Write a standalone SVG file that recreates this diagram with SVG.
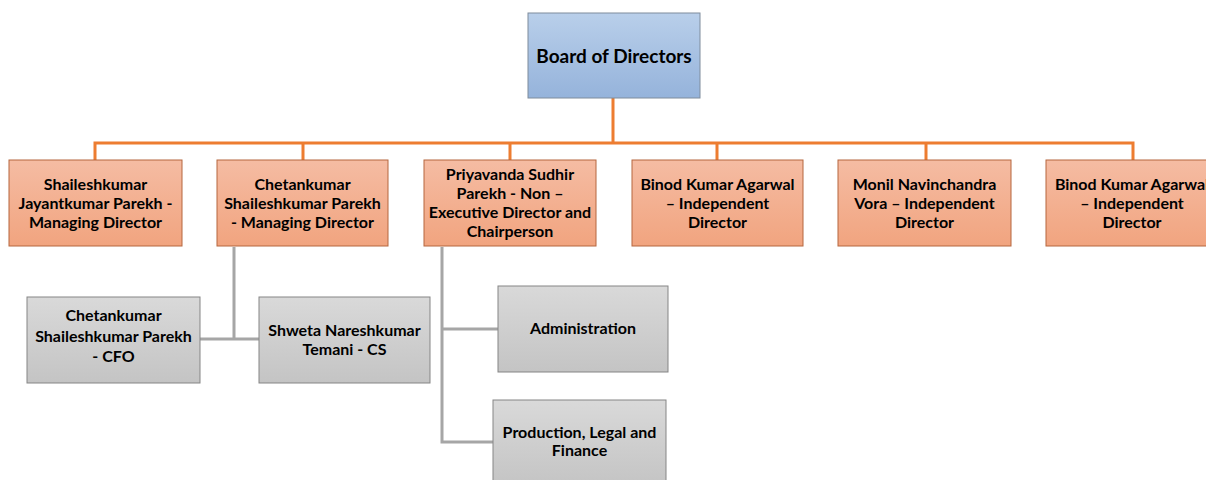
<svg xmlns="http://www.w3.org/2000/svg" width="1206" height="480" viewBox="0 0 1206 480">
<defs>
<linearGradient id="gBlue" x1="0" y1="0" x2="0" y2="1"><stop offset="0" stop-color="#B9CFEA"/><stop offset="1" stop-color="#95B3DB"/></linearGradient>
<linearGradient id="gOr" x1="0" y1="0" x2="0" y2="1"><stop offset="0" stop-color="#F5BCA3"/><stop offset="1" stop-color="#F1A47F"/></linearGradient>
<linearGradient id="gGr" x1="0" y1="0" x2="0" y2="1"><stop offset="0" stop-color="#D9D9D9"/><stop offset="1" stop-color="#C4C4C4"/></linearGradient>
</defs>
<style>
.t{font-family:"Lato","Liberation Sans",sans-serif;font-weight:bold;font-size:16px;fill:#000;text-anchor:middle}
.b{font-size:19px}
.or{fill:url(#gOr);stroke:#B5673F;stroke-width:1}
.bl{fill:url(#gBlue);stroke:#7F8C9C;stroke-width:1}
.gr{fill:url(#gGr);stroke:#858585;stroke-width:1}
.co{fill:none;stroke:#ED7D31;stroke-width:3}
.cg{fill:none;stroke:#A6A6A6;stroke-width:3}
</style>
<rect width="1206" height="480" fill="#fff"/>
<g id="connectors">
<path class="co" d="M613 98 V143 M95 160 V143 H1133 V160 M303 143 V160 M510 143 V160 M717 143 V160 M926 143 V160"/>
<path class="cg" d="M234 247 V339 M200 339 H259 M442 247 V442 H493 M442 329 H498"/>
</g>
<g id="board"><rect class="bl" x="528" y="13" width="172" height="85"/><text class="t b" x="614" y="63">Board of Directors</text></g>
<g id="n1"><rect class="or" x="9" y="160" width="173" height="86"/><text class="t" x="95.5" y="190">Shaileshkumar</text><text class="t" x="95.5" y="209">Jayantkumar Parekh -</text><text class="t" x="95.5" y="228">Managing Director</text></g>
<g id="n2"><rect class="or" x="217" y="160" width="171" height="86"/><text class="t" x="302.5" y="190">Chetankumar</text><text class="t" x="302.5" y="209">Shaileshkumar Parekh</text><text class="t" x="302.5" y="228">- Managing Director</text></g>
<g id="n3"><rect class="or" x="424" y="160" width="172" height="86"/><text class="t" x="510" y="180">Priyavanda Sudhir</text><text class="t" x="510" y="199">Parekh - Non –</text><text class="t" x="510" y="218">Executive Director and</text><text class="t" x="510" y="237">Chairperson</text></g>
<g id="n4"><rect class="or" x="632" y="160" width="171" height="86"/><text class="t" x="717.5" y="190">Binod Kumar Agarwal</text><text class="t" x="717.5" y="209">– Independent</text><text class="t" x="717.5" y="228">Director</text></g>
<g id="n5"><rect class="or" x="838" y="160" width="173" height="86"/><text class="t" x="924.5" y="190">Monil Navinchandra</text><text class="t" x="924.5" y="209">Vora – Independent</text><text class="t" x="924.5" y="228">Director</text></g>
<g id="n6"><rect class="or" x="1046" y="160" width="172" height="86"/><text class="t" x="1132" y="190">Binod Kumar Agarwal</text><text class="t" x="1132" y="209">– Independent</text><text class="t" x="1132" y="228">Director</text></g>
<g id="cfo"><rect class="gr" x="27" y="297" width="173" height="86"/><text class="t" x="113.5" y="321">Chetankumar</text><text class="t" x="113.5" y="342">Shaileshkumar Parekh</text><text class="t" x="113.5" y="362">- CFO</text></g>
<g id="cs"><rect class="gr" x="259" y="297" width="171" height="86"/><text class="t" x="344.5" y="336">Shweta Nareshkumar</text><text class="t" x="344.5" y="355">Temani - CS</text></g>
<g id="admin"><rect class="gr" x="498" y="286" width="170" height="86"/><text class="t" x="583" y="334">Administration</text></g>
<g id="prod"><rect class="gr" x="493" y="400" width="173" height="86"/><text class="t" x="579.5" y="438">Production, Legal and</text><text class="t" x="579.5" y="456">Finance</text></g>
</svg>
